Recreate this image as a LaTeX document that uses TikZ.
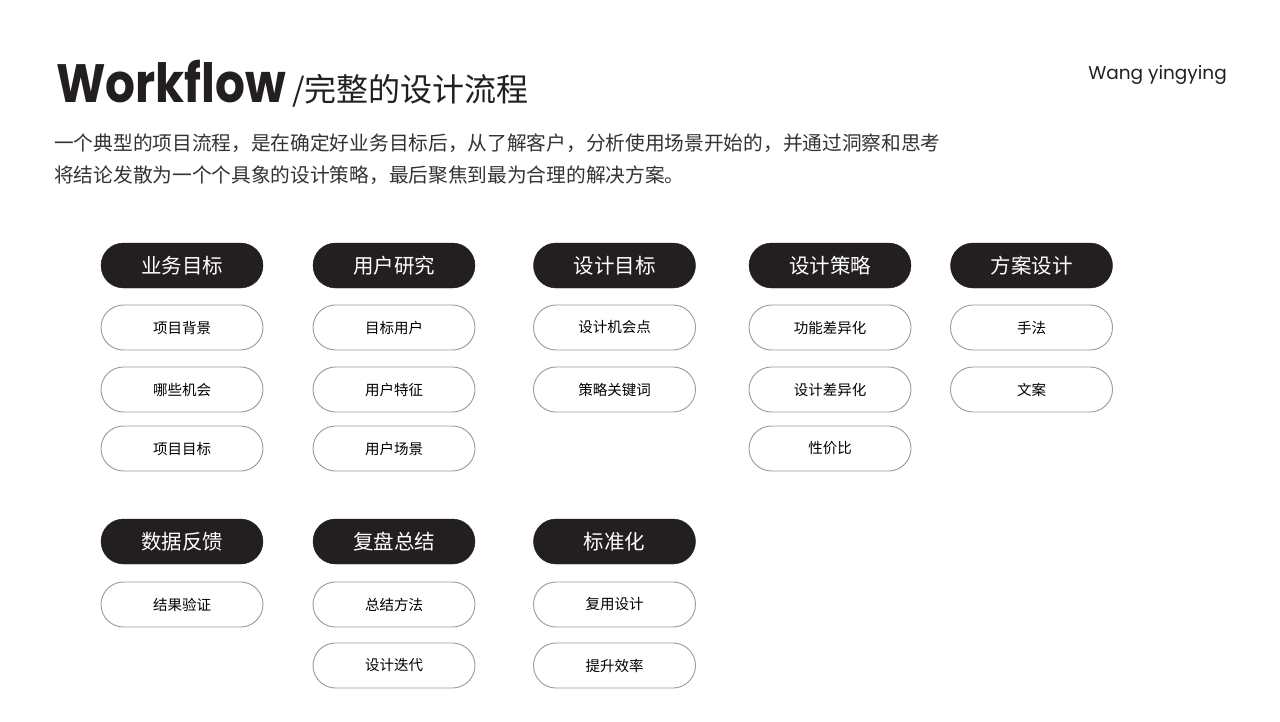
\documentclass[tikz,border=0pt]{standalone}
\usepackage{fontspec}
\setmainfont{Noto Sans CJK SC}
\newfontfamily\cjk{Noto Sans CJK SC}
\newfontfamily\latn{Poppins}
\usetikzlibrary{shapes.misc}
\definecolor{pillfill}{HTML}{231F20}
\definecolor{pillline}{HTML}{9A9A9A}
\definecolor{bodytext}{HTML}{333333}
\tikzset{
  head/.style={rounded rectangle, fill=pillfill, draw=pillfill, minimum width=162pt, minimum height=45pt, inner sep=0pt, text=white, font=\cjk\fontsize{20.5}{22}\selectfont},
  sub/.style={rounded rectangle, fill=white, draw=pillline, line width=0.9pt, minimum width=162pt, minimum height=45pt, inner sep=0pt, text=black, font=\cjk\fontsize{14.5}{16}\selectfont},
}
\begin{document}
\begin{tikzpicture}[x=1pt,y=-1pt]
\useasboundingbox[fill=white] (0,0) rectangle (1280,721);
% title
\node[anchor=base west, inner sep=0pt, font=\latn\bfseries\fontsize{54}{60}\selectfont, text=pillfill] (title) at (56,102) {\scalebox{0.87}[1]{Workflow}};
\node[anchor=base west, inner sep=0pt, font=\cjk\fontsize{32}{34}\selectfont, text=pillfill] (subtitle) at (292,101) {/完整的设计流程};
\node[anchor=base east, inner sep=0pt, font=\latn\fontsize{18.5}{22}\selectfont, text=pillfill] (author) at (1227,79) {Wang yingying};
\node[anchor=west, inner sep=0pt, font=\cjk\fontsize{19.7}{22}\selectfont, text=bodytext] (p1) at (54,143) {一个典型的项目流程，是在确定好业务目标后，从了解客户，分析使用场景开始的，并通过洞察和思考};
\node[anchor=west, inner sep=0pt, font=\cjk\fontsize{19.7}{22}\selectfont, text=bodytext] (p2) at (54,175) {将结论发散为一个个具象的设计策略，最后聚焦到最为合理的解决方案。};
% column 1
\node[head] (h1) at (182,265.5) {业务目标};
\node[sub] (a1) at (182,327.5) {项目背景};
\node[sub] (a2) at (182,389.5) {哪些机会};
\node[sub] (a3) at (182,448.5) {项目目标};
% column 2
\node[head] (h2) at (394,265.5) {用户研究};
\node[sub] (b1) at (394,327.5) {目标用户};
\node[sub] (b2) at (394,389.5) {用户特征};
\node[sub] (b3) at (394,448.5) {用户场景};
% column 3
\node[head] (h3) at (614.5,265.5) {设计目标};
\node[sub] (c1) at (614.5,327.5) {设计机会点};
\node[sub] (c2) at (614.5,389.5) {策略关键词};
% column 4
\node[head] (h4) at (830,265.5) {设计策略};
\node[sub] (d1) at (830,327.5) {功能差异化};
\node[sub] (d2) at (830,389.5) {设计差异化};
\node[sub] (d3) at (830,448.5) {性价比};
% column 5
\node[head] (h5) at (1031.5,265.5) {方案设计};
\node[sub] (e1) at (1031.5,327.5) {手法};
\node[sub] (e2) at (1031.5,389.5) {文案};
% bottom row
\node[head] (h6) at (182,541.5) {数据反馈};
\node[sub] (f1) at (182,604.5) {结果验证};
\node[head] (h7) at (394,541.5) {复盘总结};
\node[sub] (g1) at (394,604.5) {总结方法};
\node[sub] (g2) at (394,665.5) {设计迭代};
\node[head] (h8) at (614.5,541.5) {标准化};
\node[sub] (k1) at (614.5,604.5) {复用设计};
\node[sub] (k2) at (614.5,665.5) {提升效率};
\end{tikzpicture}
\end{document}
